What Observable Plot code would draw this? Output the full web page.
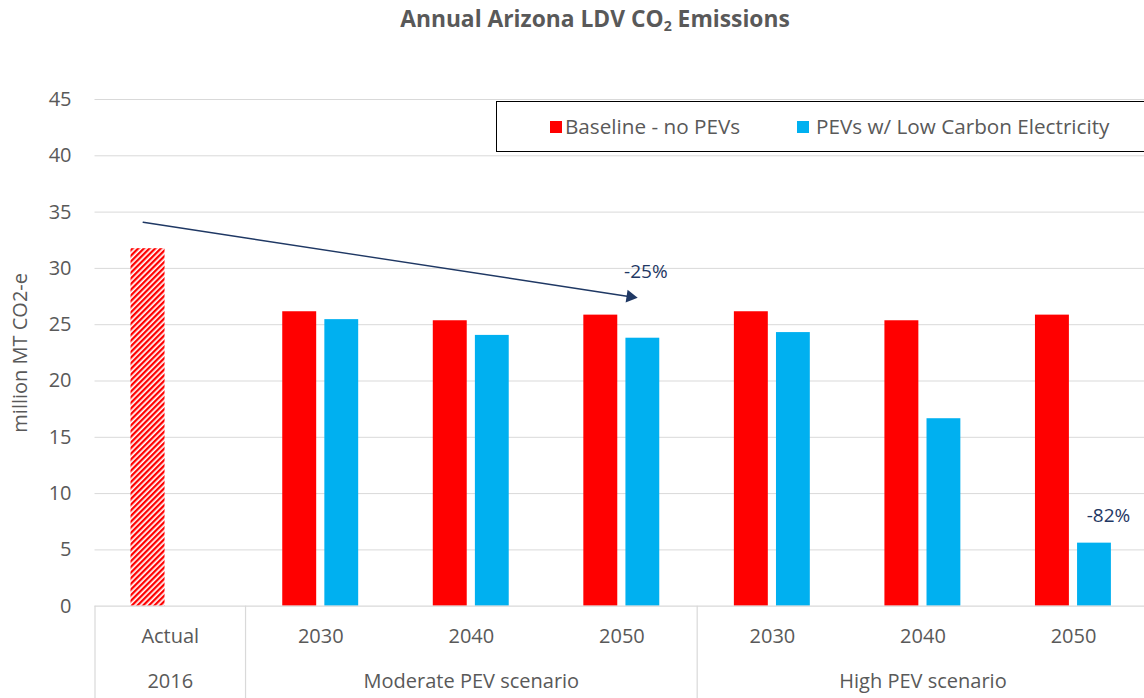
<!DOCTYPE html>
<html><head><meta charset="utf-8">
<script src="https://cdn.jsdelivr.net/npm/d3@7"></script>
<script src="https://cdn.jsdelivr.net/npm/@observablehq/plot@0.6"></script>
<style>
html,body{margin:0;padding:0;background:#fff;overflow:hidden;}
#wrap{position:relative;width:1144px;height:698px;font-family:"Open Sans",sans-serif;color:#595959;overflow:hidden;}
#title{position:absolute;left:0;top:0;width:1190px;height:38px;line-height:38px;text-align:center;font-weight:bold;font-size:22.8px;}
#title sub{font-size:0.62em;vertical-align:-0.3em;line-height:0;}
#chart{position:absolute;left:0;top:40px;}
#legend{position:absolute;left:496px;top:101px;width:700px;height:49px;border:1px solid #000;background:#fff;}
.sw{position:absolute;top:19.25px;width:11.5px;height:11.5px;}
.lab{position:absolute;top:0;line-height:49px;font-size:20.7px;white-space:nowrap;color:#595959;}
</style></head>
<body>
<svg width="0" height="0" style="position:absolute">
  <defs>
    <pattern id="hatch" patternUnits="userSpaceOnUse" width="4" height="4" patternTransform="rotate(45)">
      <rect width="4" height="4" fill="#ffffff"/>
      <rect width="2.3" height="4" fill="#ff0000"/>
    </pattern>
  </defs>
</svg>
<div id="wrap">
  <div id="title">Annual Arizona LDV CO<sub>2</sub> Emissions</div>
  <div id="chart"></div>
  <div id="legend"></div>
</div>
<script>
// ---- data ----
const groups = ["A", "M2030", "M2040", "M2050", "H2030", "H2040", "H2050"];
const groupLabels = ["Actual", "2030", "2040", "2050", "2030", "2040", "2050"];
const baseline = [31.75, 26.15, 25.35, 25.85, 26.15, 25.35, 25.85];
const pev = [null, 25.45, 24.05, 23.8, 24.3, 16.65, 5.6];
const scenarioKeys = ["A", "M2040", "H2040"];
const scenarioLabels = ["2016", "Moderate PEV scenario", "High PEV scenario"];
const separatorKeys = ["A", "M2030", "H2030"];
const yTicks = [0, 5, 10, 15, 20, 25, 30, 35, 40, 45];
const seriesNames = ["Baseline - no PEVs", "PEVs w/ Low Carbon Electricity"];
const seriesColors = ["#ff0000", "#00b0f0"];
const trend = {k1: "A", v1: 33.73, k2: "M2050", v2: 27.6};
const trendHead = {key: "M2050", value: 27.49};
const note25 = {key: "M2050", value: 29.66, label: "-25%"};
const note82 = {key: "H2050", value: 8.05, label: "-82%"};

// ---- layout ----
const W = 1144, H = 658;
const mTop = 59, mBottom = 92.3, mLeft = 94.5, mRight = -4.3;
const plotH = H - mTop - mBottom;
const halfBand = (W - mLeft - mRight) / groups.length / 2;

const baseRows = groups.map((k, i) => ({key: k, value: baseline[i]}));
const pevRows = groups.map((k, i) => ({key: k, value: pev[i]})).filter(d => d.value != null);
const navy = "#1f3864";
const grey = "#d9d9d9";

const plot = Plot.plot({
  width: W, height: H,
  marginTop: mTop, marginBottom: mBottom, marginLeft: mLeft, marginRight: mRight,
  style: {fontFamily: "Open Sans", fontSize: "20px", color: "#595959", background: "transparent", overflow: "visible"},
  x: {type: "band", domain: groups, paddingInner: 0, paddingOuter: 0, round: false, axis: null},
  y: {domain: [0, 45], axis: null},
  marks: [
    Plot.ruleY(yTicks.filter(d => d > 0), {y: d => d, stroke: grey, strokeWidth: 1}),
    Plot.barY(baseRows.filter(d => d.key === "A"), {x: "key", y: "value", fill: "url(#hatch)", insetLeft: 36, insetRight: 80.5}),
    Plot.barY(baseRows.filter(d => d.key !== "A"), {x: "key", y: "value", fill: seriesColors[0], insetLeft: 37.2, insetRight: 79.4}),
    Plot.barY(pevRows, {x: "key", y: "value", fill: seriesColors[1], insetLeft: 79.3, insetRight: 37.4}),
    Plot.ruleY([0], {y: d => d, stroke: grey, strokeWidth: 1.2}),
    Plot.ruleX(separatorKeys, {x: d => d, dx: -halfBand, stroke: grey, strokeWidth: 1.2, insetTop: plotH, insetBottom: -mBottom}),
    Plot.axisY({ticks: yTicks, tickSize: 0, tickPadding: 23.5, fontSize: 20, label: null}),
    Plot.text(["million MT CO2-e"], {text: d => d, frameAnchor: "left", textAnchor: "middle", rotate: -90, dx: -74.5, fontSize: 20, fill: "#595959"}),
    Plot.text(groups, {x: d => d, text: (d, i) => groupLabels[i], frameAnchor: "bottom", dy: 37, fontSize: 20, fill: "#595959"}),
    Plot.text(scenarioKeys, {x: d => d, text: (d, i) => scenarioLabels[i], frameAnchor: "bottom", dy: 82, fontSize: 20, fill: "#595959"}),
    Plot.arrow([trend], {x1: "k1", y1: "v1", x2: "k2", y2: "v2", stroke: navy, strokeWidth: 1.4, headLength: 0, insetStart: -27.4, insetEnd: -8.5}),
    Plot.dot([trendHead], {x: "key", y: "value", symbol: "triangle", r: 4.8, fill: navy, stroke: "none", rotate: 98.7, dx: 8.4}),
    Plot.text([note25], {x: "key", y: "value", text: "label", dx: 24, fontSize: 19, fill: navy}),
    Plot.text([note82], {x: "key", y: "value", text: "label", dx: 35, fontSize: 19, fill: navy})
  ]
});
document.getElementById("chart").appendChild(plot);

// ---- legend ----
const legend = document.getElementById("legend");
const swLeft = [53, 300], labLeft = [68, 319];
seriesNames.forEach((name, i) => {
  const sw = document.createElement("div");
  sw.className = "sw"; sw.style.left = swLeft[i] + "px"; sw.style.background = seriesColors[i];
  legend.appendChild(sw);
  const lab = document.createElement("div");
  lab.className = "lab"; lab.style.left = labLeft[i] + "px"; lab.textContent = name;
  legend.appendChild(lab);
});
</script>
</body></html>
